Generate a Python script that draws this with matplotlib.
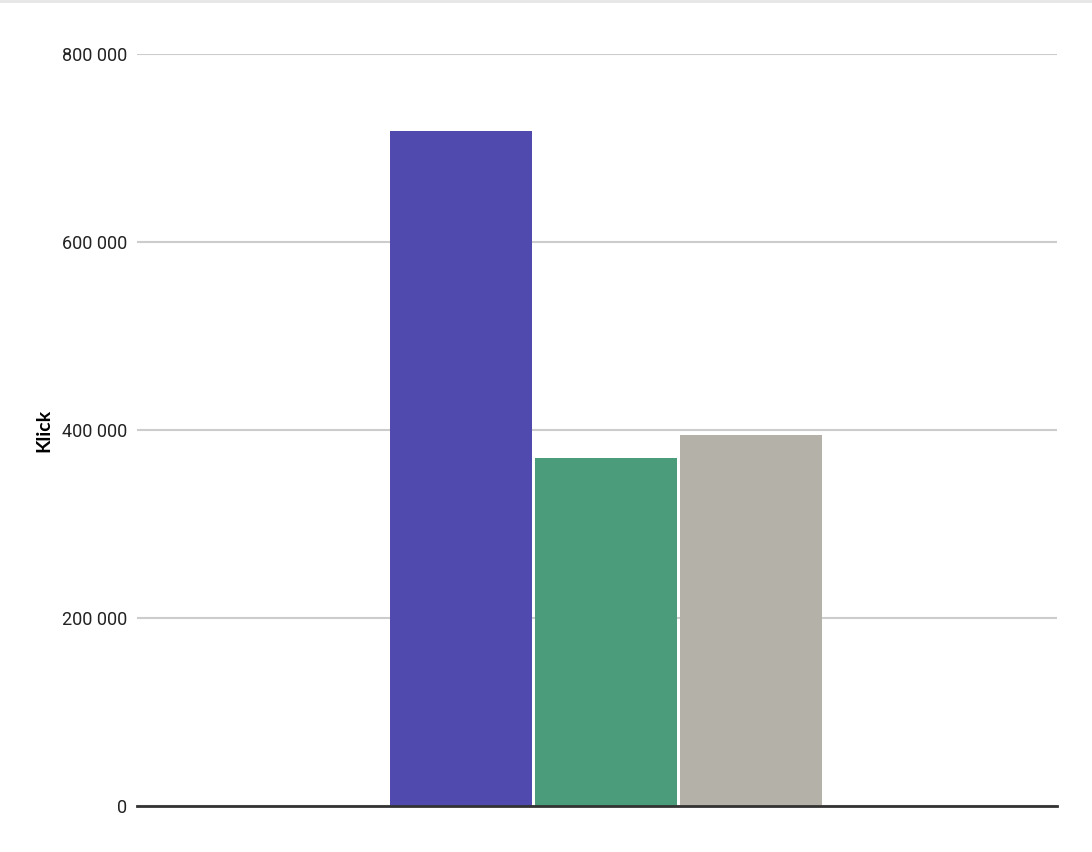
import matplotlib.pyplot as plt
from matplotlib.ticker import FuncFormatter

# data
serier = ['A', 'B', 'C']
klick = [718000, 370000, 395000]
farger = ['#5049AE', '#4A9C7A', '#B4B1A9']
y_ticks = [0, 200000, 400000, 600000, 800000]

plt.rcParams['font.family'] = ['Liberation Sans Narrow', 'Roboto', 'DejaVu Sans']

fig = plt.figure(figsize=(10.92, 8.52), dpi=100)
ax = fig.add_axes([137 / 1092, 46 / 852, 920 / 1092, 752 / 852])

bredd = 142 / 920
steg = 145 / 920
for i, (namn, v, c) in enumerate(zip(serier, klick, farger)):
    ax.bar((i - 1) * steg, v, width=bredd, color=c, label=namn, zorder=3)

ax.set_xlim(-0.51, 0.49)
ax.set_ylim(0, 800000)
ax.set_yticks(y_ticks)
ax.yaxis.set_major_formatter(FuncFormatter(lambda v, p: f'{int(v):,}'.replace(',', ' ')))
ax.set_xticks([])
ax.grid(axis='y', color='#cccccc', linewidth=1.5, zorder=0)
for s in ['top', 'right', 'left']:
    ax.spines[s].set_visible(False)
ax.spines['bottom'].set_color('#333333')
ax.spines['bottom'].set_linewidth(2)
ax.spines['bottom'].set_zorder(4)
ax.tick_params(axis='y', length=0, pad=7, labelsize=13, labelcolor='#222222')
ax.set_ylabel('Klick', fontsize=14, fontweight='bold', family=['Lato', 'DejaVu Sans'])
ax.yaxis.set_label_coords(-0.092, 0.5)

# faint line at top of the page
fig.add_artist(plt.Line2D([0, 1], [0.999, 0.999], color='#e6e6e6', linewidth=2))

fig.savefig('out.png', dpi=100)
